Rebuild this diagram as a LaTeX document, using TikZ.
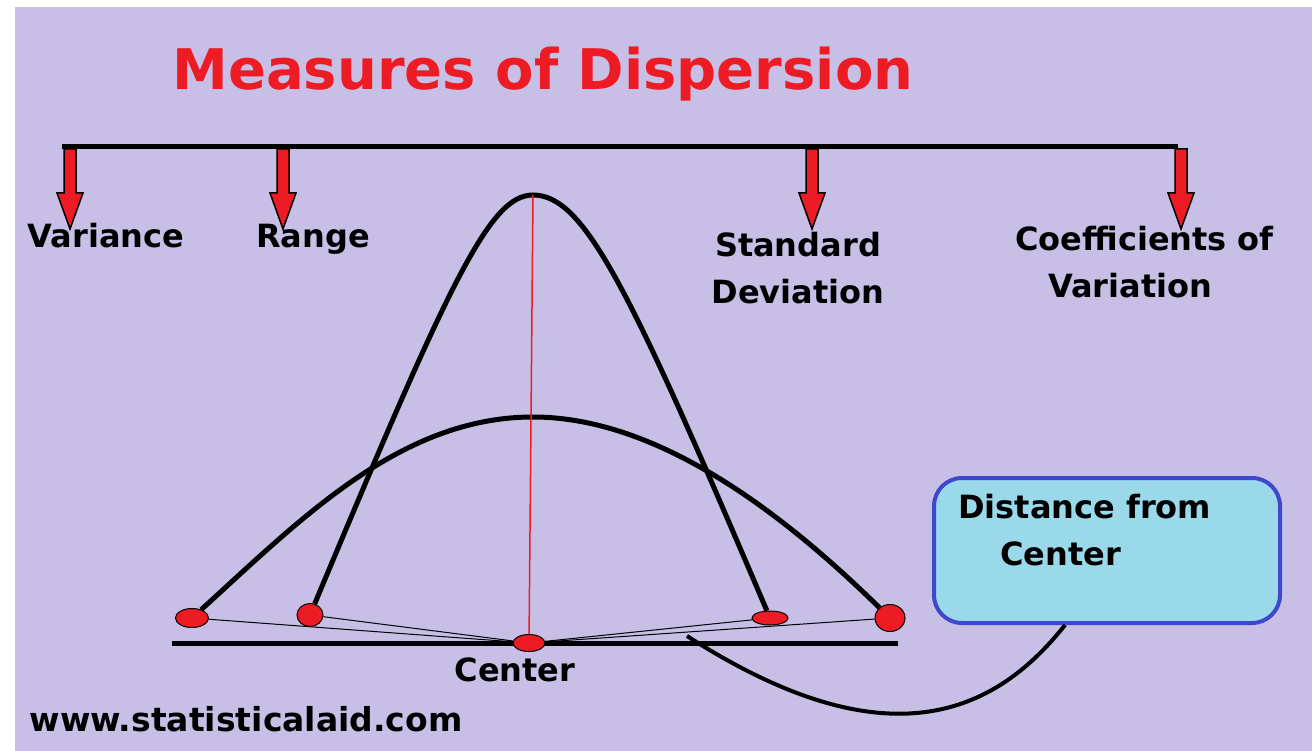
\documentclass[tikz,border=0pt]{standalone}
\usepackage{fontspec}
\setmainfont{DejaVu Sans}
\usetikzlibrary{shapes.geometric,positioning,calc}
\definecolor{lavender}{HTML}{C8BFE7}
\definecolor{paintred}{HTML}{ED1C24}
\definecolor{skyfill}{HTML}{99D9EA}
\definecolor{boxblue}{HTML}{3F48CC}

\begin{document}
\begin{tikzpicture}[x=1pt, y=-1pt,
    lbl/.style={font=\bfseries\fontsize{32}{47}\selectfont, align=center, inner sep=0pt},
    dot/.style={ellipse, draw=black, fill=paintred, inner sep=0pt, line width=1pt},
    curve/.style={line width=5pt},
    spoke/.style={line width=1pt},
    callout/.style={draw=boxblue, fill=skyfill, line width=4pt, rounded corners=28pt, minimum width=346pt, minimum height=145pt},
    redarr/.pic={\draw[fill=paintred, line width=1.5pt] (-6,0) -- (-6,44) -- (-13,44) -- (0,80) -- (13,44) -- (6,44) -- (6,0) -- cycle;}
]
% frame
\useasboundingbox (0,0) rectangle (1312,751);
\fill[lavender] (15,7) rectangle (1312,751);

\node[font=\bfseries\fontsize{56}{60}\selectfont, text=paintred, anchor=base, inner sep=0pt] (title) at (543,90) {Measures of Dispersion};

% top bar with arrows
\coordinate (barL) at (62,147);
\coordinate (barR) at (1178,147);
\draw[line width=5pt] (barL) -- (barR);
\foreach \xa in {70,283,812,1181}
  \pic at (\xa,149) {redarr};

\node[lbl, anchor=base] (var) at (106,248) {Variance};
\node[lbl, anchor=base] (rng) at (313,248) {Range};
\node[lbl, anchor=north] (sd) at (798,232) {Standard\\Deviation};
\node[lbl, align=left, anchor=north west] (cv) at (1015,226) {Coefficients of\\\hspace*{33pt}Variation};

% base line and points
\coordinate (baseL) at (172,643);
\coordinate (baseR) at (898,643);
\draw[line width=5pt] (baseL) -- (baseR);

\node[dot, minimum width=33pt, minimum height=19pt] (dA) at (192,618) {};
\node[dot, minimum width=26pt, minimum height=23pt] (dB) at (310,615) {};
\node[dot, minimum width=32pt, minimum height=17pt] (dC) at (529,643) {};
\node[dot, minimum width=36pt, minimum height=14pt] (dD) at (770,618) {};
\node[dot, minimum width=30pt, minimum height=27pt] (dE) at (890,618) {};

\coordinate (peak) at (533,195);
\coordinate (top) at (533,417);

% curves
\draw[curve] (dB) .. controls (451,278) and (490,195) .. (peak)
             .. controls (585,195) and (630,290) .. (dD);
\draw[curve] (dA) .. controls (300,520) and (400,417) .. (top)
             .. controls (668,417) and (800,530) .. (dE);
\draw[paintred, line width=1.5pt] (peak) -- (dC);

\foreach \d in {dA,dB,dD,dE}
  \draw[spoke] (\d) -- (dC);

\node[lbl, anchor=base] (ctr) at (515,681) {Center};

% callout
\node[callout] (box) at (1107,550.5) {};
\node[lbl, align=left, anchor=north west] (boxtxt) at (958,494) {Distance from\\\hspace*{42pt}Center};
\coordinate (tail) at (687,636);
\draw[line width=4pt] ([xshift=-42pt]box.south) .. controls (990,720) and (880,760) .. (tail);

\node[lbl, font=\bfseries\fontsize{33}{40}\selectfont, anchor=base] (url) at (246,731) {www.statisticalaid.com};
\end{tikzpicture}
\end{document}
